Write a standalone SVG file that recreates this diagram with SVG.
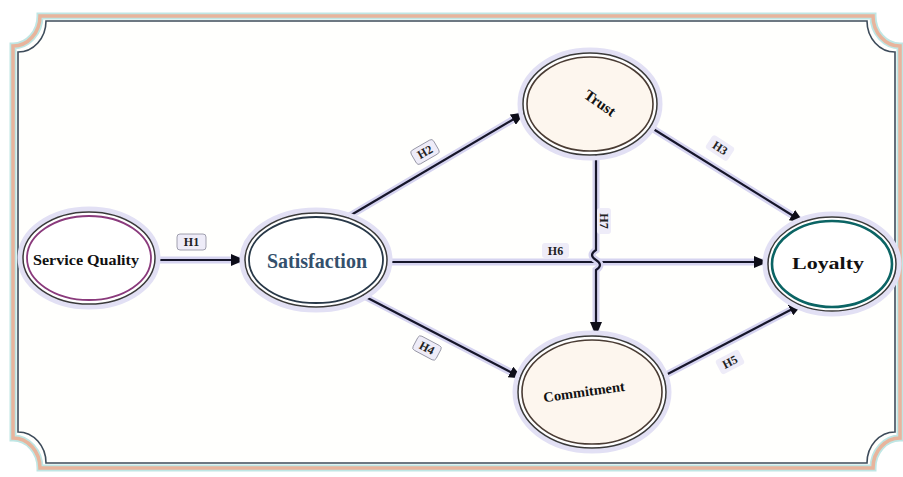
<svg xmlns="http://www.w3.org/2000/svg" width="903" height="477" viewBox="0 0 903 477">
<defs>
<style>
.glow{fill:none;stroke:#d6d4f0;stroke-width:7;stroke-linecap:round}
.core{fill:none;stroke:#16162a;stroke-width:2.2}
.halo{fill:none;stroke:#e2e0f4;stroke-width:5}
.outer{fill:#fff;stroke:#3a3a3a;stroke-width:1.5}
.nt{font-family:"Liberation Serif",serif;font-weight:bold;text-anchor:middle;dominant-baseline:central;fill:#111}
.lb{fill:#eeecf8;stroke:#8a8a9a;stroke-width:0.8}
.lt{font-family:"Liberation Serif",serif;font-size:12px;font-weight:bold;text-anchor:middle;dominant-baseline:central;fill:#222}
</style>
<marker id="ah" markerWidth="14" markerHeight="12" refX="13" refY="6" orient="auto" markerUnits="userSpaceOnUse">
<path d="M0,0 L14,6 L0,12 Z" fill="#0d0d18"/>
</marker>
</defs>
<rect width="903" height="477" fill="#fff"/>
<g id="frame">
<path d="M40,16 H873 A27 30 0 0 0 900,46 V438 A27 30 0 0 0 873,468 H40 A27 30 0 0 0 13,438 V46 A27 30 0 0 0 40,16 Z" fill="#fffffd" stroke="#bfe6e4" stroke-width="7"/>
<path d="M40,16 H873 A27 30 0 0 0 900,46 V438 A27 30 0 0 0 873,468 H40 A27 30 0 0 0 13,438 V46 A27 30 0 0 0 40,16 Z" fill="none" stroke="#e8b49c" stroke-width="3.5"/>
<path d="M46,21 H867 A28 31 0 0 0 895,52 V432 A28 31 0 0 0 867,463 H46 A28 31 0 0 0 18,432 V52 A28 31 0 0 0 46,21 Z" fill="none" stroke="#3e4c5a" stroke-width="1.6"/>
</g>
<g id="connectors">
<path class="glow" d="M158,260 L244,260"/>
<path class="core" d="M158,260 L244,260" marker-end="url(#ah)"/>
<path class="glow" d="M346,218 L524,113"/>
<path class="core" d="M346,218 L524,113" marker-end="url(#ah)"/>
<path class="glow" d="M642,122 L803,222"/>
<path class="core" d="M642,122 L803,222" marker-end="url(#ah)"/>
<path class="glow" d="M360,294 L522,378"/>
<path class="core" d="M360,294 L522,378" marker-end="url(#ah)"/>
<path class="glow" d="M660,378 L802,304"/>
<path class="core" d="M660,378 L802,304" marker-end="url(#ah)"/>
<path class="glow" d="M388,262 L767,262"/>
<path class="core" d="M388,262 L767,262" marker-end="url(#ah)"/>
<path class="glow" d="M596,150 V250 q-8,5 0,10 q8,5 0,10 V335"/>
<path class="core" d="M596,150 V250 q-8,5 0,10 q8,5 0,10 V335" marker-end="url(#ah)"/>
<g id="labels">
<rect class="lb" x="177" y="234" width="29" height="16" rx="3"/>
<text class="lt" x="191.5" y="242">H1</text>
<g transform="translate(425,152) rotate(-30)"><rect class="lb" x="-13" y="-8" width="26" height="16" rx="3"/><text class="lt" x="0" y="0">H2</text></g>
<g transform="translate(720,148) rotate(33)"><rect x="-13" y="-8" width="26" height="16" rx="3" fill="#eeecf8"/><text class="lt" x="0" y="0">H3</text></g>
<g transform="translate(427,348) rotate(28)"><rect class="lb" x="-13" y="-8" width="26" height="16" rx="3"/><text class="lt" x="0" y="0">H4</text></g>
<g transform="translate(730,362) rotate(-27)"><rect x="-13" y="-8" width="26" height="16" rx="3" fill="#eeecf8"/><text class="lt" x="0" y="0">H5</text></g>
<rect x="542" y="243" width="27" height="15" rx="3" fill="#eeecf8"/>
<text class="lt" x="555.5" y="251">H6</text>
<g transform="translate(604,221) rotate(90)"><rect x="-13" y="-7" width="26" height="14" rx="3" fill="#eeecf8"/><text class="lt" x="0" y="0">H7</text></g>
</g>
</g>
<g id="service-quality">
<ellipse class="halo" cx="89" cy="258" rx="69" ry="49"/>
<ellipse class="outer" cx="89" cy="258" rx="66" ry="46"/>
<ellipse cx="89" cy="258" rx="62" ry="42" fill="#fff" stroke="#8a3a7c" stroke-width="1.8"/>
<text class="nt" x="86" y="260" font-size="15" textLength="106" lengthAdjust="spacingAndGlyphs">Service Quality</text>
</g>
<g id="satisfaction">
<ellipse class="halo" cx="316" cy="260" rx="74" ry="50"/>
<ellipse class="outer" cx="316" cy="260" rx="71" ry="47"/>
<ellipse cx="316" cy="260" rx="67" ry="43" fill="#fff" stroke="#283848" stroke-width="1.8"/>
<text class="nt" x="317" y="261" font-size="21" textLength="100" lengthAdjust="spacingAndGlyphs" style="fill:#34506c">Satisfaction</text>
</g>
<g id="trust">
<ellipse class="halo" cx="590" cy="104" rx="70" ry="54"/>
<ellipse class="outer" cx="590" cy="104" rx="67" ry="51"/>
<ellipse cx="590" cy="104" rx="63" ry="47" fill="#fdf6ee" stroke="#4a3c34" stroke-width="1.6"/>
<text class="nt" x="0" y="0" font-size="15" transform="translate(600,103) rotate(35)">Trust</text>
</g>
<g id="commitment">
<ellipse class="halo" cx="592" cy="392" rx="77" ry="59"/>
<ellipse class="outer" cx="592" cy="392" rx="74" ry="56"/>
<ellipse cx="592" cy="392" rx="70" ry="52" fill="#fdf6ee" stroke="#4a3c34" stroke-width="1.6"/>
<text class="nt" x="0" y="0" font-size="14" textLength="82" lengthAdjust="spacingAndGlyphs" transform="translate(584,392) rotate(-8)">Commitment</text>
</g>
<g id="loyalty">
<ellipse class="halo" cx="832" cy="264" rx="67" ry="50"/>
<ellipse class="outer" cx="832" cy="264" rx="64" ry="47"/>
<ellipse cx="832" cy="264" rx="60" ry="43" fill="#fff" stroke="#0b6464" stroke-width="2.6"/>
<text class="nt" x="828" y="263" font-size="17" textLength="72" lengthAdjust="spacingAndGlyphs">Loyalty</text>
</g>
</svg>
